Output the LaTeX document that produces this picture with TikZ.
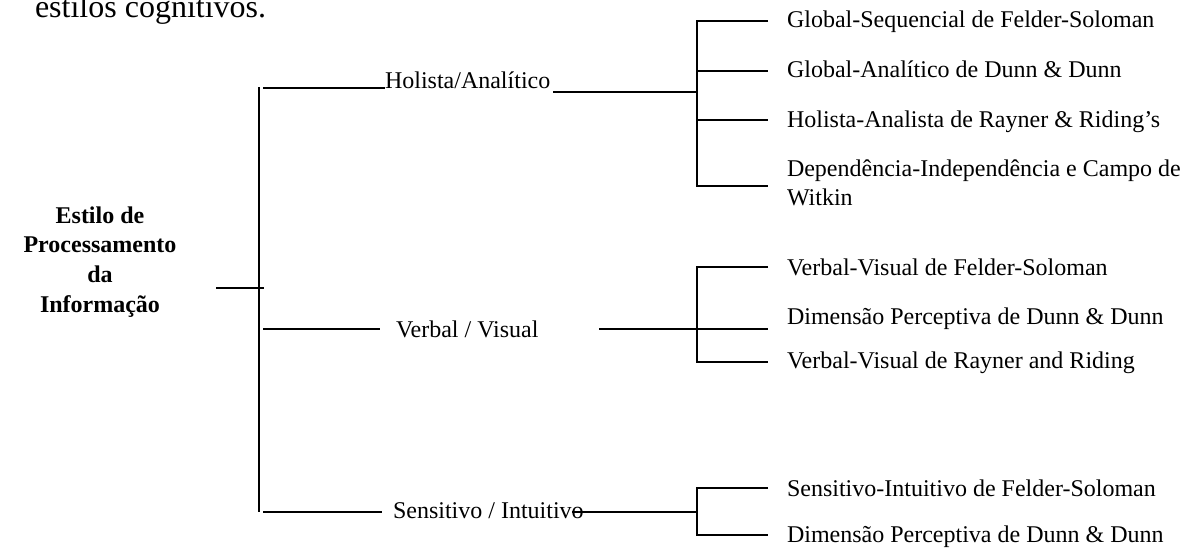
\documentclass[tikz,border=0pt]{standalone}
\usepackage{fontspec}
\setmainfont{Liberation Serif}
\begin{document}
\begin{tikzpicture}[x=0.5pt,y=-0.5pt,
  conn/.style={line width=1pt},
  txt/.style={inner sep=0pt, outer sep=0pt, anchor=base west,
              font=\fontsize{12}{14.5}\selectfont},
  roottxt/.style={inner sep=0pt, outer sep=0pt, anchor=base,
              font=\fontsize{12}{14.85}\selectfont\bfseries},
  headtxt/.style={inner sep=0pt, outer sep=0pt, anchor=base west,
              font=\fontsize{16}{19}\selectfont}]
\clip (0,0) rectangle (1188,547);

% running text above the chart
\node[headtxt] (head) at (35,17) {estilos cognitivos.};

% root label
\node[roottxt] (root) at (100,223)
  {\begin{tabular}[t]{@{}c@{}}Estilo de\\Processamento\\da\\Informação\end{tabular}};

% first-level labels
\node[txt] (hol)  at (385,88)  {Holista/Analítico};
\node[txt] (verb) at (396,337) {Verbal / Visual};
\node[txt] (sens) at (393,518) {Sensitivo / Intuitivo};

% leaves
\node[txt] (hs1) at (787,27)  {Global-Sequencial de Felder-Soloman};
\node[txt] (hs2) at (787,77)  {Global-Analítico de Dunn \& Dunn};
\node[txt] (hs3) at (787,127) {Holista-Analista de Rayner \& Riding’s};
\node[txt] (hs4) at (787,176)
  {\begin{tabular}[t]{@{}l@{}}Dependência-Independência e Campo de\\Witkin\end{tabular}};
\node[txt] (vv1) at (787,275) {Verbal-Visual de Felder-Soloman};
\node[txt] (vv2) at (787,324) {Dimensão Perceptiva de Dunn \& Dunn};
\node[txt] (vv3) at (787,368) {Verbal-Visual de Rayner and Riding};
\node[txt] (si1) at (787,496) {Sensitivo-Intuitivo de Felder-Soloman};
\node[txt] (si2) at (787,542) {Dimensão Perceptiva de Dunn \& Dunn};

% junction points
\coordinate (rootL)    at (216,288);
\coordinate (rootR)    at (264,288);
\coordinate (spineTop) at (259,87);
\coordinate (spineBot) at (259,512);
\coordinate (holIn)    at (263,88);
\coordinate (holOut)   at (553,92);
\coordinate (holJ)     at (697,92);
\coordinate (verbIn)   at (263,329);
\coordinate (verbEnd)  at (380,329);
\coordinate (verbOut)  at (599,329);
\coordinate (verbJ)    at (697,329);
\coordinate (sensIn)   at (263,512);
\coordinate (sensEnd)  at (382,512);
\coordinate (sensOut)  at (572,512);
\coordinate (sensJ)    at (697,512);

\coordinate (hs1in) at (768,21);
\coordinate (hs2in) at (768,71);
\coordinate (hs3in) at (768,120);
\coordinate (hs4in) at (768,186);
\coordinate (vv1in) at (768,267);
\coordinate (vv2in) at (768,329);
\coordinate (vv3in) at (768,362);
\coordinate (si1in) at (768,488);
\coordinate (si2in) at (768,535);

% root stub and spine
\draw[conn] (rootL) -- (rootR);
\draw[conn] (spineTop) -- (spineBot);

% first-level branches
\draw[conn] (holIn) -- (holIn -| hol.base west);
\draw[conn] (holOut) -- (holJ);
\draw[conn] (verbIn) -- (verbEnd);
\draw[conn] (verbOut) -- (verbJ);
\draw[conn] (sensIn) -- (sensEnd);
\draw[conn] (sensOut) -- (sensJ);

% Holista/Analítico leaves
\draw[conn] (hs1in) -- (hs1in -| holJ) -- (hs4in -| holJ) -- (hs4in);
\draw[conn] (hs2in -| holJ) -- (hs2in);
\draw[conn] (hs3in -| holJ) -- (hs3in);

% Verbal / Visual leaves
\draw[conn] (vv1in) -- (vv1in -| verbJ) -- (vv3in -| verbJ) -- (vv3in);
\draw[conn] (vv2in -| verbJ) -- (vv2in);

% Sensitivo / Intuitivo leaves
\draw[conn] (si1in) -- (si1in -| sensJ) -- (si2in -| sensJ) -- (si2in);
\end{tikzpicture}
\end{document}
